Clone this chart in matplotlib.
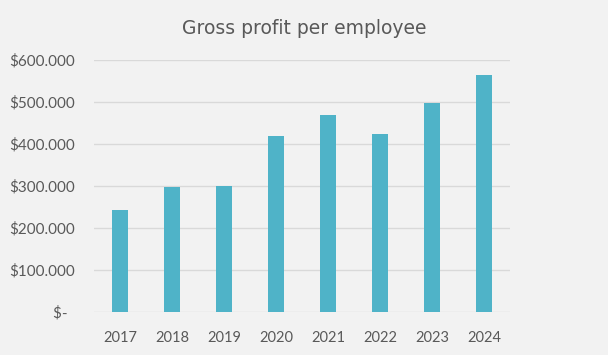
import matplotlib
matplotlib.use("Agg")
import matplotlib.pyplot as plt
from matplotlib.ticker import FuncFormatter

years = ['2017', '2018', '2019', '2020', '2021', '2022', '2023', '2024']
profit = [243000, 298000, 300000, 420000, 469000, 424000, 497000, 564000]

text_col = '#595959'

def money(v, pos):
    if v == 0:
        return '$-  '
    return '$' + format(int(v / 1000), 'd') + '.000'

fig = plt.figure(figsize=(6.08, 3.55), dpi=100)
fig.patch.set_facecolor('#f2f2f2')
ax = fig.add_axes([0.1546, 0.121, 0.684, 0.710])
ax.set_facecolor('#f2f2f2')

ax.bar(range(len(years)), profit, width=0.31, color='#4fb3c8', zorder=3)

ax.set_xlim(-0.5, len(years) - 0.5)
ax.set_ylim(0, 600000)
ax.set_yticks(range(0, 600001, 100000))
ax.yaxis.set_major_formatter(FuncFormatter(money))
ax.set_xticks(range(len(years)))
ax.set_xticklabels(years)
ax.grid(axis='y', color='#d9d9d9', linewidth=1, zorder=0)
for s in ax.spines.values():
    s.set_visible(False)
ax.tick_params(length=0, labelcolor=text_col)
ax.tick_params(axis='x', labelsize=10.5, pad=14)
ax.tick_params(axis='y', labelsize=11, pad=13.5)
for lbl in ax.get_xticklabels() + ax.get_yticklabels():
    lbl.set_family('Lato')

fig.text(0.5, 0.921, 'Gross profit per employee', ha='center', va='center',
         fontsize=13.5, color=text_col, family='DejaVu Sans')

fig.savefig('out.png', dpi=100, facecolor=fig.get_facecolor())
